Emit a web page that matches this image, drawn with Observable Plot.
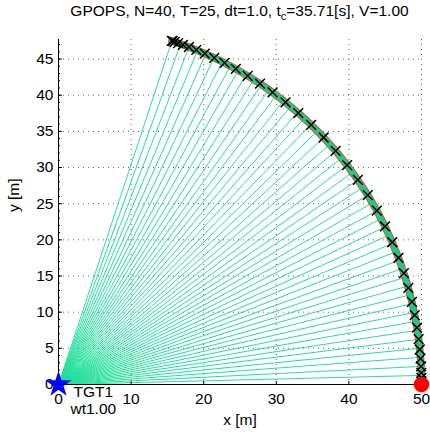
<!DOCTYPE html>
<html><head><meta charset="utf-8">
<script src="https://cdn.jsdelivr.net/npm/d3@7"></script>
<script src="https://cdn.jsdelivr.net/npm/@observablehq/plot@0.6"></script>
<style>
body{margin:0;background:#fff;font-family:"Liberation Sans",Arial,sans-serif;}
#wrap{position:relative;width:430px;height:434px;overflow:hidden;}
#title{position:relative;height:26px;}
#title span{position:absolute;left:239.5px;top:3px;transform:translateX(-50%);white-space:nowrap;font-size:15.5px;line-height:16px;color:#000;}
#title sub{font-size:11px;vertical-align:-4px;line-height:0;}
svg{display:block;}
</style></head>
<body><div id="wrap"><div id="title"><span>GPOPS, N=40, T=25, dt=1.0, t<sub>c</sub>=35.71[s], V=1.00</span></div><div id="chart"></div></div>
<script>
// trajectory nodes (x markers)
const nodeX = [50.00,50.00,50.00,49.99,49.97,49.94,49.87,49.76,49.61,49.38,49.07,48.68,48.18,47.57,46.83,45.97,44.97,43.85,42.60,41.23,39.75,38.17,36.52,34.80,33.03,31.27,29.49,27.75,26.06,24.42,22.88,21.45,20.15,18.98,17.97,17.14,16.48,16.00,15.72,15.62];
const nodeY = [0.00,0.10,0.40,0.91,1.61,2.50,3.58,4.84,6.27,7.85,9.58,11.42,13.37,15.41,17.52,19.67,21.85,24.03,26.18,28.28,30.33,32.29,34.15,35.90,37.53,39.02,40.38,41.59,42.67,43.63,44.46,45.17,45.76,46.26,46.66,46.97,47.21,47.37,47.47,47.50];
// line-of-sight directions (deg) from the target to the vehicle
const losAngleDeg = [0,1.44,2.87,4.31,5.74,7.18,8.62,10.05,11.49,12.92,14.36,15.80,17.23,18.67,20.10,21.54,22.98,24.41,25.85,27.28,28.72,30.16,31.59,33.03,34.46,35.90,37.34,38.77,40.21,41.64,43.08,44.52,45.95,47.39,48.82,50.26,51.70,53.13,54.57,56.00,57.44,58.88,60.31,61.75,63.18,64.62,66.06,67.49,68.93,70.36,71.80];
const losRange = 50;
const target = {x:0, y:0, name:"TGT1", weight:"wt1.00"};
const start = {x:50, y:0};
const xTicks = [0,10,20,30,40,50];
const yTicks = [0,5,10,15,20,25,30,35,40,45];
const yMinor = d3.range(0,48,1);

const traj = nodeX.map((x,i)=>({x, y:nodeY[i]}));
const los = losAngleDeg.map(a=>({x: losRange*Math.cos(a*Math.PI/180), y: losRange*Math.sin(a*Math.PI/180)}));

const FS = 15.5;
const chart = Plot.plot({
  width:430, height:408,
  marginLeft:58, marginRight:9, marginTop:13, marginBottom:50,
  x:{domain:[0,50]}, y:{domain:[0,47.7]},
  style:{fontFamily:"'Liberation Sans', Arial, sans-serif", fontSize:FS+"px", color:"#000", background:"#fff", overflow:"visible"},
  marks:[
    Plot.gridX(xTicks.slice(1), {stroke:"#666", strokeOpacity:1, strokeDasharray:"1,4", strokeWidth:1}),
    Plot.gridY(yTicks.slice(1), {stroke:"#666", strokeOpacity:1, strokeDasharray:"1,4", strokeWidth:1}),
    Plot.link(los, {x1:()=>target.x, y1:()=>target.y, x2:"x", y2:"y", stroke:"#22e09c", strokeWidth:1}),
    Plot.line(traj, {x:"x", y:"y", stroke:"#e0503a", strokeWidth:7.5}),
    Plot.line(traj, {x:"x", y:"y", stroke:"#1cc98e", strokeWidth:5.5}),
    Plot.dot(traj, {x:"x", y:"y", symbol:"times", stroke:"#000", r:4.5, strokeWidth:1.5}),
    Plot.ruleX(xTicks, {y1:0, y2:0, insetTop:-3, stroke:"#000"}),
    Plot.ruleY(yMinor, {x1:0, x2:0, insetRight:-2, stroke:"#000"}),
    Plot.ruleY(yTicks, {x1:0, x2:0, insetRight:-4, stroke:"#000"}),
    Plot.ruleX([0], {stroke:"#000"}),
    Plot.ruleY([0], {stroke:"#000"}),
    Plot.axisX(xTicks, {tickSize:0, tickPadding:8, label:null, fontSize:FS}),
    Plot.axisY(yTicks, {tickSize:0, tickPadding:5, label:null, fontSize:FS}),
    Plot.text(["x [m]"], {frameAnchor:"bottom", dy:36, lineAnchor:"middle", fontSize:FS}),
    Plot.text(["y [m]"], {frameAnchor:"left", dx:-44, rotate:-90, lineAnchor:"middle", fontSize:FS}),
    Plot.dot([start], {x:"x", y:"y", r:7, fill:"#ff0000", stroke:"#ff0000"}),
    Plot.dot([target], {x:"x", y:"y", symbol:"star", r:6.8, fill:"#0000ff", stroke:"#0000ff"}),
    Plot.text([target], {x:"x", y:"y", text:"name", textAnchor:"start", dx:15, dy:8, lineAnchor:"middle", fontSize:FS}),
    Plot.text([target], {x:"x", y:"y", text:"weight", textAnchor:"start", dx:12, dy:25, lineAnchor:"middle", fontSize:FS})
  ]
});
document.getElementById("chart").appendChild(chart);
</script></body></html>
